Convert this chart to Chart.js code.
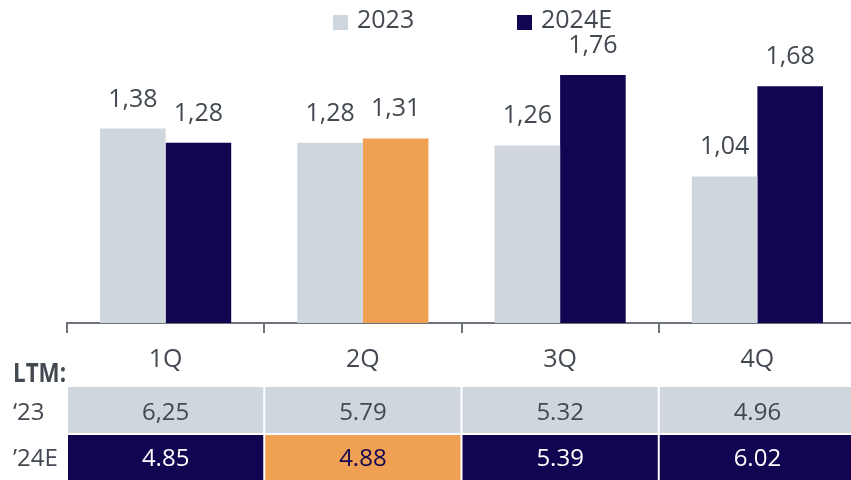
<!DOCTYPE html>
<html><head><meta charset="utf-8">
<script src="https://cdn.jsdelivr.net/npm/chart.js@4"></script>
<style>
html,body{margin:0;padding:0;overflow:hidden;background:#fff;width:851px;height:480px}
#wrap{width:856px;height:480px}
</style>
</head><body><div id="wrap"><canvas id="c" width="856" height="480"></canvas></div>
<script>
// ---- data ----
const categories = ['1Q', '2Q', '3Q', '4Q'];
const seriesLabels = ['2023', '2024E'];
const series2023 = [1.38, 1.28, 1.26, 1.04];
const series2024E = [1.28, 1.31, 1.76, 1.68];
const highlightIndex = 1; // 2Q 2024E shown in orange
const ltmTitle = 'LTM:';
const ltmRowLabels = ['\u201823', '\u201924E'];
const ltm2023 = ['6,25', '5.79', '5.32', '4.96'];
const ltm2024E = ['4.85', '4.88', '5.39', '6.02'];

// ---- styles ----
const GRAY = '#cfd6dd';
const NAVY = '#110552';
const ORANGE = '#f0a052';
const TEXT = '#434951';
const AXIS = '#6e737b';
const FONT = "'Open Sans', sans-serif";

const navyColors = series2024E.map((v, i) => i === highlightIndex ? ORANGE : NAVY);

const overlay = {
  id: 'overlay',
  afterDraw(chart) {
    const ctx = chart.ctx;
    const xs = chart.scales.x;
    ctx.save();
    // value labels
    ctx.font = `25px ${FONT}`;
    ctx.fillStyle = TEXT;
    ctx.textAlign = 'center';
    ctx.textBaseline = 'alphabetic';
    chart.data.datasets.forEach((ds, di) => {
      chart.getDatasetMeta(di).data.forEach((bar, i) => {
        ctx.fillText(ds.data[i].toFixed(2).replace('.', ','), bar.x, bar.y - 22);
      });
    });
    // legend
    const legendX = [333, 517];
    chart.data.datasets.forEach((ds, di) => {
      ctx.fillStyle = di === 0 ? GRAY : NAVY;
      ctx.fillRect(legendX[di], 15, 15, 15);
      ctx.fillStyle = TEXT;
      ctx.textAlign = 'left';
      ctx.font = `25px ${FONT}`;
      ctx.fillText(ds.label, legendX[di] + 24, 28);
    });
    // LTM title (slightly condensed)
    ctx.save();
    ctx.translate(13, 381.5);
    ctx.scale(0.86, 1);
    ctx.font = `bold 26px ${FONT}`;
    ctx.fillStyle = TEXT;
    ctx.textAlign = 'left';
    ctx.fillText(ltmTitle, 0, 0);
    ctx.restore();
    // table
    const n = categories.length;
    const w = (xs.right - xs.left) / n;
    const rows = [
      { label: ltmRowLabels[0], values: ltm2023, top: 387, h: 46, base: 419.5,
        fill: () => GRAY, color: () => TEXT },
      { label: ltmRowLabels[1], values: ltm2024E, top: 435, h: 46, base: 466,
        fill: (i) => navyColors[i], color: (i) => i === highlightIndex ? NAVY : '#ffffff' }
    ];
    rows.forEach(r => {
      ctx.font = `24px ${FONT}`;
      ctx.fillStyle = TEXT;
      ctx.textAlign = 'left';
      ctx.fillText(r.label, 13, r.base);
      r.values.forEach((v, i) => {
        const x0 = xs.left + i * w + 1;
        ctx.fillStyle = r.fill(i);
        ctx.fillRect(x0, r.top, w - 2, r.h);
        ctx.fillStyle = r.color(i);
        ctx.textAlign = 'center';
        ctx.fillText(v, xs.getPixelForValue(i), r.base);
      });
    });
    ctx.restore();
  }
};

new Chart(document.getElementById('c'), {
  type: 'bar',
  data: {
    labels: categories,
    datasets: [
      { label: seriesLabels[0], data: series2023, backgroundColor: GRAY, borderWidth: 0,
        categoryPercentage: 0.665, barPercentage: 1 },
      { label: seriesLabels[1], data: series2024E, backgroundColor: navyColors, borderWidth: 0,
        categoryPercentage: 0.665, barPercentage: 1 }
    ]
  },
  options: {
    responsive: false,
    animation: false,
    layout: { padding: { left: 67, right: 0, top: 13, bottom: 0 } },
    plugins: { legend: { display: false }, tooltip: { enabled: false } },
    scales: {
      x: {
        offset: true,
        grid: { offset: true, display: true, drawOnChartArea: false, drawTicks: true,
                tickLength: 10, color: AXIS, lineWidth: 2, tickWidth: 2 },
        border: { display: true, color: AXIS, width: 2 },
        ticks: { color: TEXT, font: { family: FONT, size: 25 }, padding: 12 },
        afterFit(s) { s.height = 157; }
      },
      y: { display: false, min: 0, max: 2.2 }
    }
  },
  plugins: [overlay]
});
</script>
</body></html>
